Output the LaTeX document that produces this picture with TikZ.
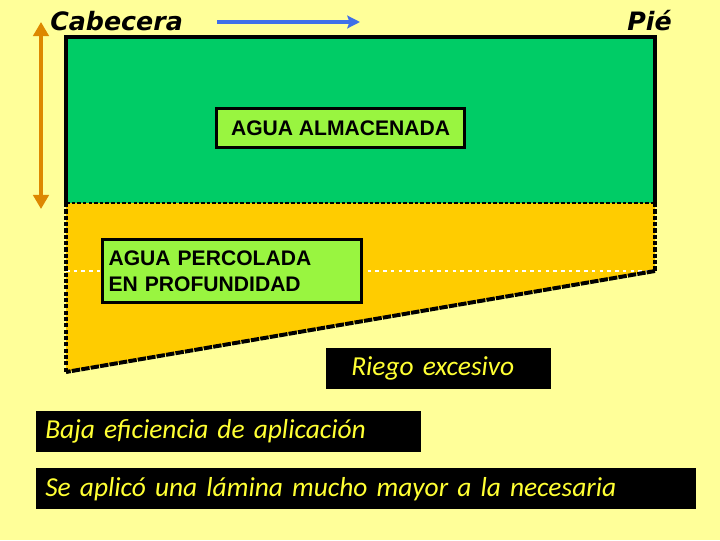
\documentclass[tikz,border=0pt]{standalone}
\usepackage{fontspec}
\setmainfont{Liberation Sans}
\newfontfamily\titfont{DejaVu Sans}
\newfontfamily\notefont{Carlito}
\usetikzlibrary{positioning,arrows.meta}
\definecolor{fondo}{HTML}{FFFF99}
\definecolor{verde}{HTML}{00CC66}
\definecolor{verdeclaro}{HTML}{99F540}
\definecolor{naranja}{HTML}{FFCC00}
\definecolor{flechanar}{HTML}{DD8800}
\definecolor{flechaazul}{HTML}{3F6FE8}
\definecolor{amarillo}{HTML}{FFFF33}

\tikzset{
  aguabox/.style={draw=black,line width=2.2pt,fill=verdeclaro,anchor=north west,
    inner xsep=0.2cm,font=\bfseries\fontsize{15}{18.5}\selectfont,align=left},
  notabox/.style={fill=black,text=amarillo,anchor=north west,minimum height=1.025cm,
    inner xsep=0.225cm,font=\notefont\itshape\fontsize{19.5}{24}\selectfont,align=left},
  titulo/.style={anchor=base west,inner sep=0pt,font=\titfont\bfseries\itshape\fontsize{18}{20}\selectfont}
}

\begin{document}
\begin{tikzpicture}[x=0.025cm,y=-0.025cm]
\fill[fondo] (0,0) rectangle (720,540);
\useasboundingbox (0,0) rectangle (720,540);
% zonas de agua
\fill[verde] (66,37) rectangle (655,203);
\draw[line width=2.2pt] (66,203) -- (66,37) -- (655,37) -- (655,203);
\fill[naranja] (66,203) -- (655,203) -- (655,271) -- (66,372) -- cycle;
\draw[white,line width=1pt,dash pattern=on 2.5pt off 3pt] (66,271) -- (655,271);
\draw[line width=1.4pt,dash pattern=on 2.5pt off 1.5pt] (66,203) -- (655,203);
\draw[line width=3.2pt,dash pattern=on 3pt off 1.5pt] (655,203) -- (655,271);
\draw[line width=3.2pt,dash pattern=on 3pt off 1.5pt] (66,203) -- (66,372);
\draw[line width=2.8pt,dash pattern=on 6pt off 0.8pt] (655,271) -- (66,372);
% rotulos
\node[aguabox,minimum width=6.2cm,minimum height=0.975cm,align=center] (almacenada) at (215,107) {AGUA ALMACENADA};
\node[aguabox,text width=6.175cm,minimum height=1.575cm,inner xsep=0.15cm] (percolada) at (101,238) {AGUA PERCOLADA\\EN PROFUNDIDAD};
\node[notabox,text width=4.375cm,inner xsep=0.625cm] (riego) at (326,348) {Riego excesivo};
\node[notabox,text width=9.175cm] (baja) at (36,411) {Baja eficiencia de aplicación};
\node[notabox,text width=16.05cm] (lamina) at (36,468) {Se aplicó una lámina mucho mayor a la necesaria};
% cabecera y pie
\node[titulo] (cabecera) at (50,30) {Cabecera};
\node[titulo] (pie) at (627,30) {Pié};
\coordinate (ini) at (217,22);
\coordinate (fin) at (360,22);
\draw[flechaazul,line width=2.2pt,-{Stealth[length=9pt,width=9pt,inset=1.5pt]}] (ini) -- (fin);
\coordinate (arriba) at (41,22);
\coordinate (abajo) at (41,209);
\draw[flechanar,line width=2.2pt,{Triangle[length=10pt,width=11pt]}-{Triangle[length=10pt,width=11pt]}] (arriba) -- (abajo);
\end{tikzpicture}
\end{document}
